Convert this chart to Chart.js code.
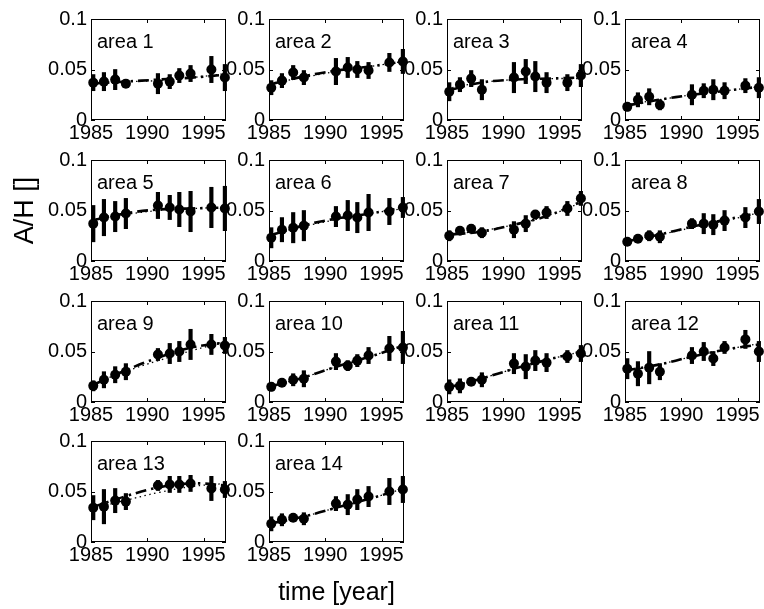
<!DOCTYPE html>
<html>
<head>
<meta charset="utf-8">
<script src="https://cdn.jsdelivr.net/npm/chart.js@4.4.1/dist/chart.umd.min.js"></script>
<style>
  html, body { margin: 0; padding: 0; background: #fff; }
  #fig { position: relative; width: 764px; height: 609px; overflow: hidden; }
  #fig canvas { position: absolute; }
</style>
</head>
<body>
<div id="fig"></div>
<script>
// survey dates (fractional years)
const years = [1985.2, 1986.15, 1987.15, 1988.1, 1990.95, 1992.0, 1992.85, 1993.85, 1995.7, 1996.9];
const fitYears = [1985, 1988, 1991, 1994, 1997];
const xTicks = [1985, 1990, 1995];
const yTicks = [0, 0.05, 0.1];
const areaNames = ['area 1', 'area 2', 'area 3', 'area 4', 'area 5', 'area 6', 'area 7',
  'area 8', 'area 9', 'area 10', 'area 11', 'area 12', 'area 13', 'area 14'];

// A/H per area and year
const ratio = [
  [0.037, 0.038, 0.040, 0.036, 0.036, 0.038, 0.044, 0.046, 0.050, 0.042],
  [0.032, 0.039, 0.047, 0.042, 0.048, 0.052, 0.050, 0.049, 0.057, 0.058],
  [0.028, 0.035, 0.041, 0.030, 0.042, 0.048, 0.043, 0.037, 0.037, 0.044],
  [0.013, 0.020, 0.023, 0.015, 0.025, 0.029, 0.030, 0.029, 0.034, 0.032],
  [0.037, 0.043, 0.044, 0.047, 0.055, 0.053, 0.051, 0.049, 0.053, 0.052],
  [0.023, 0.031, 0.033, 0.035, 0.044, 0.045, 0.043, 0.048, 0.049, 0.053],
  [0.025, 0.030, 0.032, 0.028, 0.031, 0.037, 0.046, 0.048, 0.052, 0.062],
  [0.019, 0.022, 0.025, 0.024, 0.037, 0.037, 0.036, 0.040, 0.043, 0.049],
  [0.016, 0.022, 0.027, 0.030, 0.047, 0.048, 0.050, 0.057, 0.057, 0.056],
  [0.015, 0.019, 0.022, 0.023, 0.040, 0.036, 0.041, 0.046, 0.053, 0.054],
  [0.015, 0.016, 0.020, 0.022, 0.038, 0.035, 0.041, 0.039, 0.045, 0.048],
  [0.033, 0.028, 0.034, 0.030, 0.046, 0.050, 0.043, 0.054, 0.062, 0.050],
  [0.034, 0.035, 0.041, 0.040, 0.056, 0.057, 0.057, 0.058, 0.053, 0.052],
  [0.018, 0.022, 0.024, 0.023, 0.038, 0.037, 0.042, 0.045, 0.050, 0.052]
];

// half-width of the error bars
const ratioErr = [
  [0.008, 0.009, 0.010, 0.004, 0.010, 0.007, 0.007, 0.008, 0.013, 0.013],
  [0.007, 0.007, 0.007, 0.007, 0.013, 0.010, 0.008, 0.008, 0.009, 0.012],
  [0.009, 0.007, 0.008, 0.010, 0.015, 0.012, 0.015, 0.010, 0.008, 0.011],
  [0.004, 0.007, 0.008, 0.005, 0.010, 0.007, 0.010, 0.008, 0.007, 0.010],
  [0.018, 0.018, 0.015, 0.015, 0.013, 0.012, 0.017, 0.020, 0.020, 0.022],
  [0.010, 0.012, 0.015, 0.015, 0.010, 0.015, 0.015, 0.018, 0.013, 0.010],
  [0.005, 0.004, 0.004, 0.005, 0.008, 0.008, 0.004, 0.006, 0.007, 0.007],
  [0.003, 0.003, 0.005, 0.006, 0.005, 0.010, 0.010, 0.010, 0.010, 0.012],
  [0.005, 0.008, 0.008, 0.008, 0.006, 0.010, 0.010, 0.015, 0.010, 0.008],
  [0.004, 0.003, 0.006, 0.008, 0.008, 0.005, 0.006, 0.008, 0.012, 0.016],
  [0.007, 0.007, 0.003, 0.007, 0.010, 0.012, 0.010, 0.009, 0.006, 0.008],
  [0.010, 0.012, 0.016, 0.008, 0.008, 0.009, 0.007, 0.006, 0.009, 0.010],
  [0.012, 0.017, 0.012, 0.008, 0.005, 0.008, 0.008, 0.008, 0.012, 0.008],
  [0.007, 0.006, 0.003, 0.006, 0.007, 0.010, 0.010, 0.010, 0.013, 0.013]
];

// smoothed fit (dash-dot) at fitYears
const fitDashDot = [
  [0.036, 0.038, 0.040, 0.042, 0.045],
  [0.035, 0.043, 0.049, 0.053, 0.058],
  [0.029, 0.037, 0.040, 0.041, 0.042],
  [0.014, 0.020, 0.025, 0.029, 0.033],
  [0.040, 0.047, 0.051, 0.052, 0.053],
  [0.025, 0.035, 0.042, 0.047, 0.053],
  [0.026, 0.029, 0.036, 0.045, 0.059],
  [0.019, 0.026, 0.034, 0.041, 0.048],
  [0.016, 0.031, 0.044, 0.054, 0.059],
  [0.015, 0.024, 0.035, 0.045, 0.056],
  [0.014, 0.023, 0.033, 0.042, 0.050],
  [0.031, 0.037, 0.045, 0.052, 0.057],
  [0.034, 0.045, 0.054, 0.058, 0.056],
  [0.018, 0.025, 0.034, 0.043, 0.053]
];

// quadratic trend (dotted) at fitYears
const fitDotted = [
  [0.037, 0.038, 0.039, 0.042, 0.046],
  [0.036, 0.042, 0.048, 0.053, 0.058],
  [0.031, 0.037, 0.040, 0.041, 0.041],
  [0.015, 0.020, 0.025, 0.029, 0.033],
  [0.041, 0.046, 0.050, 0.052, 0.053],
  [0.026, 0.034, 0.041, 0.047, 0.052],
  [0.026, 0.030, 0.036, 0.045, 0.058],
  [0.020, 0.026, 0.033, 0.040, 0.048],
  [0.017, 0.030, 0.041, 0.051, 0.060],
  [0.015, 0.024, 0.035, 0.045, 0.056],
  [0.014, 0.023, 0.033, 0.042, 0.050],
  [0.030, 0.037, 0.045, 0.052, 0.058],
  [0.033, 0.041, 0.049, 0.055, 0.058],
  [0.018, 0.025, 0.034, 0.043, 0.053]
];

const FONT = '"Liberation Sans", Arial, Helvetica, sans-serif';
Chart.defaults.font.family = FONT;
Chart.defaults.color = '#000';
Chart.defaults.animation = false;

const colLeft = [91, 269, 447, 625];
const rowTop = [15, 156, 297, 437];
const PW = 135, PH = 105;

// box, inward tick marks and the area name inside each panel
const panelFrame = {
  id: 'panelFrame',
  beforeDatasetsDraw(chart, args, opts) {
    const { ctx, chartArea: a, scales } = chart;
    ctx.save();
    ctx.strokeStyle = '#000';
    ctx.lineWidth = 1;
    ctx.strokeRect(a.left + 0.5, a.top + 0.5, a.width - 1, a.height - 1);
    ctx.beginPath();
    scales.x.ticks.forEach(t => {
      const px = Math.round(scales.x.getPixelForValue(t.value)) + 0.5;
      ctx.moveTo(px, a.bottom); ctx.lineTo(px, a.bottom - 4);
      ctx.moveTo(px, a.top); ctx.lineTo(px, a.top + 4);
    });
    scales.y.ticks.forEach(t => {
      const py = Math.round(scales.y.getPixelForValue(t.value)) + 0.5;
      ctx.moveTo(a.left, py); ctx.lineTo(a.left + 4, py);
      ctx.moveTo(a.right, py); ctx.lineTo(a.right - 4, py);
    });
    ctx.stroke();
    ctx.font = '20px ' + FONT;
    ctx.fillStyle = '#000';
    ctx.textBaseline = 'alphabetic';
    ctx.fillText(opts.label, a.left + 6, a.top + 29);
    ctx.restore();
  }
};

const fig = document.getElementById('fig');

areaNames.forEach((name, i) => {
  const col = i % 4, row = Math.floor(i / 4);
  const padL = i === 4 ? 91 : 55;   // room for the y title on area 5
  const padB = i === 13 ? 66 : 28;  // room for the x title on area 14
  const padT = 12, padR = 14;

  const canvas = document.createElement('canvas');
  canvas.width = padL + PW + padR;
  canvas.height = padT + PH + padB;
  canvas.style.left = (colLeft[col] - padL) + 'px';
  canvas.style.top = (rowTop[row] - padT) + 'px';
  fig.appendChild(canvas);

  new Chart(canvas.getContext('2d'), {
    type: 'scatter',
    data: {
      datasets: [
        {
          type: 'scatter',
          data: years.map((x, j) => ({ x, y: ratio[i][j] })),
          pointRadius: 5,
          pointBorderWidth: 0,
          backgroundColor: '#000',
          borderColor: '#000',
          clip: false,
          order: 0
        },
        {
          type: 'bar',
          data: years.map((x, j) => ({ x, y: [ratio[i][j] - ratioErr[i][j], ratio[i][j] + ratioErr[i][j]] })),
          backgroundColor: '#000',
          borderWidth: 0,
          barThickness: 3.5,
          clip: false,
          order: 1
        },
        {
          type: 'line',
          data: fitYears.map((x, j) => ({ x, y: fitDashDot[i][j] })),
          borderColor: '#000',
          borderWidth: 2.6,
          borderDash: [11, 5, 2.5, 5],
          pointRadius: 0,
          tension: 0.4,
          fill: false,
          order: 2
        },
        {
          type: 'line',
          data: fitYears.map((x, j) => ({ x, y: fitDotted[i][j] })),
          borderColor: '#000',
          borderWidth: 1.3,
          borderDash: [1.5, 3.5],
          pointRadius: 0,
          tension: 0.4,
          fill: false,
          order: 3
        }
      ]
    },
    options: {
      responsive: false,
      devicePixelRatio: 1,
      events: [],
      layout: { padding: { top: padT, right: padR, left: 0, bottom: 0 } },
      plugins: {
        legend: { display: false },
        tooltip: { enabled: false },
        panelFrame: { label: name }
      },
      scales: {
        x: {
          type: 'linear',
          min: 1985,
          max: 1997,
          offset: false,
          grid: { display: false, drawTicks: false, offset: false },
          border: { display: false },
          afterBuildTicks: s => { s.ticks = xTicks.map(value => ({ value })); },
          afterFit: s => { s.height = padB; },
          ticks: {
            font: { size: 20 },
            color: '#000',
            padding: 1,
            maxRotation: 0,
            autoSkip: false,
            callback: v => String(v)
          },
          title: {
            display: i === 13,
            text: 'time [year]',
            font: { size: 25 },
            color: '#000',
            padding: { top: 0, bottom: 0 }
          }
        },
        y: {
          type: 'linear',
          min: 0,
          max: 0.1,
          grid: { display: false, drawTicks: false },
          border: { display: false },
          afterBuildTicks: s => { s.ticks = yTicks.map(value => ({ value })); },
          afterFit: s => { s.width = padL; },
          ticks: {
            font: { size: 20 },
            color: '#000',
            padding: 4,
            autoSkip: false,
            callback: v => String(v)
          },
          title: {
            display: i === 4,
            text: 'A/H []',
            font: { size: 27 },
            color: '#000',
            padding: { top: 9, bottom: 0 }
          }
        }
      }
    },
    plugins: [panelFrame]
  });
});
</script>
</body>
</html>
